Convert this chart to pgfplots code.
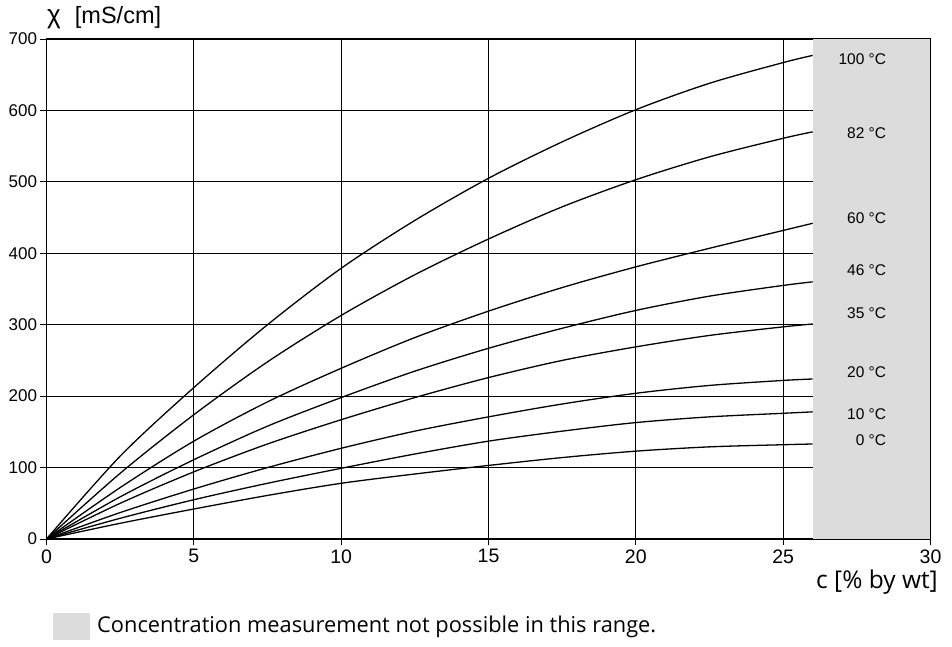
\documentclass[border=0pt]{standalone}
\usepackage{pgfplots}
\pgfplotsset{compat=1.18}
\usepackage{fontspec}
\setmainfont{Liberation Sans}
\newfontfamily\notefont{Open Sans}
\definecolor{zone}{HTML}{DCDCDC}
\begin{document}
\begin{tikzpicture}[x=1pt,y=1pt]
\begin{axis}[
  scale only axis, width=884pt, height=500pt,
  xmin=0, xmax=30, ymin=0, ymax=700,
  xtick={0,5,...,30}, ytick={0,100,...,700},
  tick pos=left,
  clip=false,
  axis line style={line width=1.4pt},
  tick align=outside, major tick length=6pt,
  tick style={black, line width=1pt},
  xticklabel style={font=\fontsize{19.5}{19.5}\selectfont, yshift=-1pt},
  yticklabel style={font=\fontsize{17}{17}\selectfont},
  /pgf/number format/assume math mode=true,
  grid=none,
]
% grid
\pgfplotsinvokeforeach{5,10,15,20,25}{\draw[black, line width=1.2pt] (axis cs:#1,0) -- (axis cs:#1,700);}
\pgfplotsinvokeforeach{100,200,300,400,500,600}{\draw[black, line width=1.2pt] (axis cs:0,#1) -- (axis cs:26,#1);}
\fill[zone] (axis cs:26,0) rectangle (axis cs:30,700);
\draw[black, line width=0.6pt] (axis cs:26,0) -- (axis cs:30,0) -- (axis cs:30,700);

\addplot[black, line width=1.3pt, smooth] coordinates {(0,0) (2.5,116) (5,212) (7.5,300) (10,379) (12.5,446) (15,505) (17.5,556) (20,601) (22.5,638) (25,667) (26,677)};
\addplot[black, line width=1.3pt, smooth] coordinates {(0,0) (2.5,92) (5,174) (7.5,248) (10,313) (12.5,370) (15,420) (17.5,465) (20,503) (22.5,535) (25,561) (26,570)};
\addplot[black, line width=1.3pt, smooth] coordinates {(0,0) (2.5,72) (5,137) (7.5,192) (10,239) (12.5,282) (15,319) (17.5,352) (20,381) (22.5,407) (25,432) (26,442)};
\addplot[black, line width=1.3pt, smooth] coordinates {(0,0) (2.5,59) (5,111) (7.5,158) (10,198) (12.5,235) (15,267) (17.5,295) (20,320) (22.5,340) (25,355) (26,360)};
\addplot[black, line width=1.3pt, smooth] coordinates {(0,0) (2.5,50) (5,94) (7.5,133) (10,167) (12.5,198) (15,226) (17.5,250) (20,269) (22.5,285) (25,297) (26,301)};
\addplot[black, line width=1.3pt, smooth] coordinates {(0,0) (2.5,37) (5,70) (7.5,100) (10,127) (12.5,151) (15,171) (17.5,189) (20,204) (22.5,215) (25,222) (26,224)};
\addplot[black, line width=1.3pt, smooth] coordinates {(0,0) (2.5,29) (5,55) (7.5,78) (10,99) (12.5,119) (15,137) (17.5,151) (20,163) (22.5,171) (25,176) (26,178)};
\addplot[black, line width=1.3pt, smooth] coordinates {(0,0) (2.5,22) (5,42) (7.5,61) (10,78) (12.5,91) (15,103) (17.5,114) (20,123) (22.5,129) (25,132) (26,133)};

\begin{scope}[every node/.style={anchor=east, font=\fontsize{15.5}{15.5}\selectfont, inner sep=0pt}]
\node at (axis cs:28.5,672) {100 °C};
\node at (axis cs:28.5,568) {82 °C};
\node at (axis cs:28.5,449) {60 °C};
\node at (axis cs:28.5,377) {46 °C};
\node at (axis cs:28.5,316) {35 °C};
\node at (axis cs:28.5,233) {20 °C};
\node at (axis cs:28.5,175) {10 °C};
\node at (axis cs:28.5,138) {0 °C};
\end{scope}
\coordinate (O) at (rel axis cs:0,0);
\end{axis}
\path (O) ++(-46.5pt,-107pt) rectangle ++(952pt,646pt);
\node[anchor=west, inner sep=0pt, font=\fontsize{23.5}{23.5}\selectfont] at ([shift={(0.5pt,521pt)}]O) {{\fontsize{26}{26}\selectfont χ}\hspace{0.6em}[mS/cm]};
\node[anchor=east, inner sep=0pt, font=\notefont\fontsize{24.5}{24.5}\selectfont] at ([shift={(891.5pt,-43pt)}]O) {c [\% by wt]};
\fill[zone] ([shift={(6.5pt,-74pt)}]O) rectangle ++(37pt,-27pt);
\node[anchor=west, inner sep=0pt, font=\notefont\fontsize{21.8}{21.8}\selectfont] at ([shift={(50.5pt,-88pt)}]O) {Concentration measurement not possible in this range.};
\end{tikzpicture}
\end{document}
